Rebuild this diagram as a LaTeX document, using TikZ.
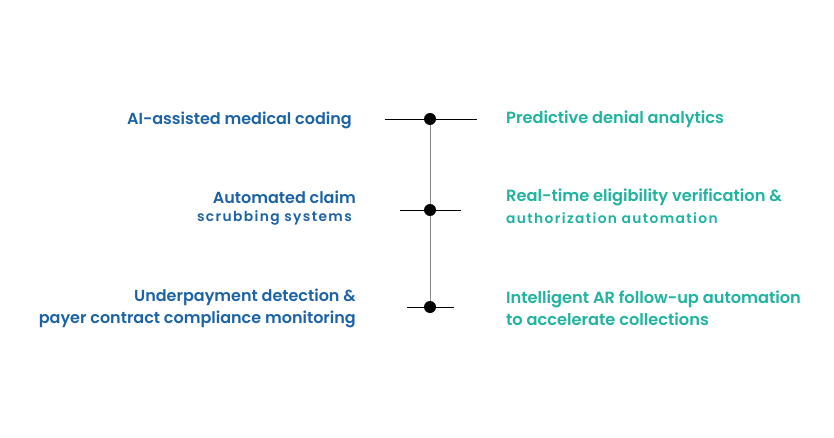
\documentclass[tikz,border=0pt]{standalone}
\usepackage{fontspec}
\setmainfont{Poppins}[BoldFont={Poppins SemiBold}]
\newfontfamily\widefont{Poppins}[BoldFont={Poppins SemiBold},LetterSpace=10]
\definecolor{leftblue}{HTML}{1B63A6}
\definecolor{rightteal}{HTML}{1FB3A0}
\definecolor{stem}{HTML}{8A8A8A}
\begin{document}
\begin{tikzpicture}[x=1pt,y=-1pt,
  lefttext/.style={anchor=east,text=leftblue,font=\fontsize{16}{22}\selectfont\bfseries,align=right,inner sep=0pt},
  righttext/.style={anchor=west,text=rightteal,font=\fontsize{16.2}{22}\selectfont\bfseries,align=left,inner sep=0pt},
  smallfont/.style={font=\fontsize{13.8}{14}\selectfont\widefont\bfseries},
  dotnode/.style={circle,fill=black,minimum size=12pt,inner sep=0pt},
  tick/.style={draw=black,line width=0.8pt},
  stemline/.style={draw=stem,line width=1pt}]
\useasboundingbox (0,0) rectangle (834,438);
% dots
\node[dotnode] (d1) at (430,119) {};
\node[dotnode] (d2) at (430,210) {};
\node[dotnode] (d3) at (430,307) {};
\draw[stemline] (d1) -- (d2);
\draw[stemline] (d2) -- (d3);
% ticks
\coordinate (l1) at (385,119); \coordinate (r1) at (477,119);
\coordinate (l2) at (400,210); \coordinate (r2) at (461,210);
\coordinate (l3) at (407,307); \coordinate (r3) at (454,307);
\draw[tick] (l1) -- (d1.west); \draw[tick] (d1.east) -- (r1);
\draw[tick] (l2) -- (d2.west); \draw[tick] (d2.east) -- (r2);
\draw[tick] (l3) -- (d3.west); \draw[tick] (d3.east) -- (r3);
% left texts
\node[lefttext] (t1) at (352,120) {AI-assisted medical coding};
\node[lefttext] (t2a) at (356,197) {Automated claim};
\node[lefttext,smallfont] (t2b) at (352,218) {scrubbing systems};
\node[lefttext] (t3) at (356,308) {Underpayment detection \&\\payer contract compliance monitoring};
% right texts
\node[righttext] (u1) at (506,119) {Predictive denial analytics};
\node[righttext] (u2a) at (506,197) {Real-time eligibility verification \&};
\node[righttext,smallfont] (u2b) at (506,218) {authorization automation};
\node[righttext] (u3) at (506,308) {Intelligent AR follow-up automation\\to accelerate collections};
\end{tikzpicture}
\end{document}
